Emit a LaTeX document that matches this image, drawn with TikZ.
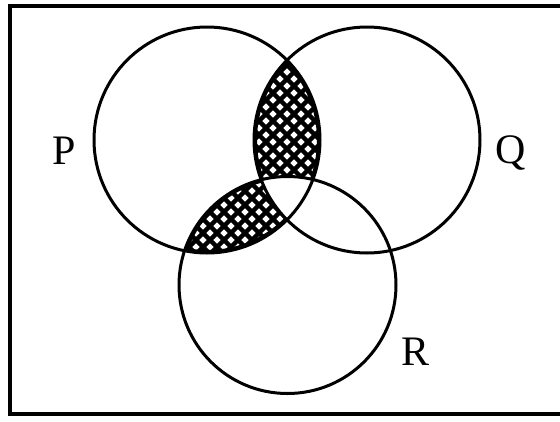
\documentclass[tikz,border=0pt]{standalone}
\usepackage{fontspec}
\setmainfont{Liberation Serif}
\begin{document}
\begin{tikzpicture}[x=1pt,y=-1pt,
  circ/.style={line width=3pt},
  hatchline/.style={line width=4.3pt,black},
  lbl/.style={font=\fontsize{42}{42}\selectfont, inner sep=0pt}]
\useasboundingbox (0,0) rectangle (560,421);
\fill[white] (0,0) rectangle (560,421);
\coordinate (cP) at (207,140);
\coordinate (cQ) at (367,140);
\coordinate (cR) at (287.5,285);
% hatched regions
\begin{scope}
  \clip (cP) circle (113);
  \clip (cQ) circle (113);
  \foreach \k in {-40,...,40} {
    \draw[hatchline] (\k*14-200,-100) -- ++(700,700);
    \draw[hatchline] (\k*14+200,-100) -- ++(-700,700);
  }
  \draw[line width=6pt] (cP) circle (113) (cQ) circle (113);
\end{scope}
\begin{scope}
  \clip (cP) circle (113);
  \clip (cR) circle (108.5);
  \foreach \k in {-40,...,40} {
    \draw[hatchline] (\k*14-200,-100) -- ++(700,700);
    \draw[hatchline] (\k*14+200,-100) -- ++(-700,700);
  }
  \draw[line width=6pt] (cP) circle (113) (cR) circle (108.5);
\end{scope}
\begin{scope}
  \clip (cP) circle (113);
  \clip (cQ) circle (113);
  \clip (cR) circle (108.5);
  \fill[white] (0,0) rectangle (560,421);
\end{scope}
% circles
\draw[circ] (cP) circle (113);
\draw[circ] (cQ) circle (113);
\draw[circ] (cR) circle (108.5);
% frame
\draw[line width=3.5pt] (572,6) -- (10,6) -- (10,414) -- (572,414);
% labels
\node[lbl] (P) at (64,151) {P};
\node[lbl] (Q) at (511,153) {Q};
\node[lbl] (R) at (416,352) {R};
\end{tikzpicture}
\end{document}
